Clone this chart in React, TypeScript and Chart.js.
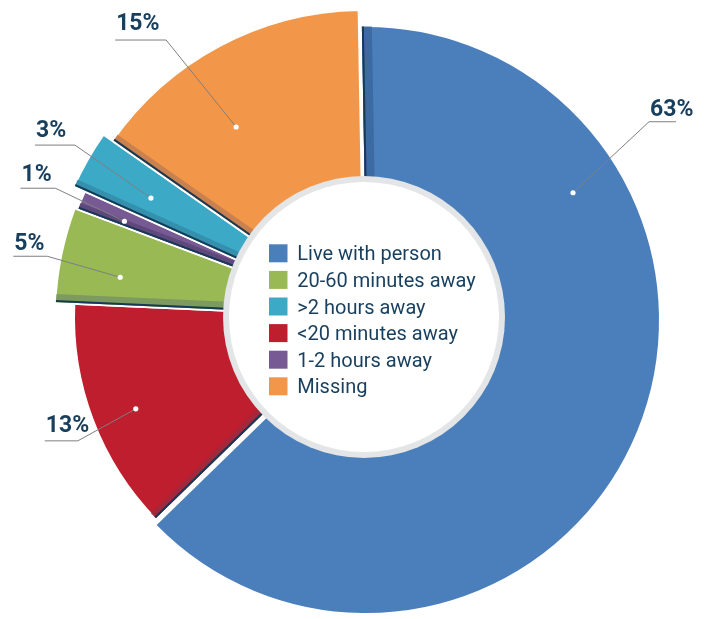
import React, { useEffect, useRef } from "react";
import { Chart, registerables } from "chart.js";

Chart.register(...registerables);

// ---- data ----
const categories = [
  "Live with person",
  "<20 minutes away",
  "20-60 minutes away",
  "1-2 hours away",
  ">2 hours away",
  "Missing",
];
const shares = [63, 13, 5, 1, 3, 15];
const percentLabels = ["63%", "13%", "5%", "1%", "3%", "15%"];
const legendOrder = [
  "Live with person",
  "20-60 minutes away",
  ">2 hours away",
  "<20 minutes away",
  "1-2 hours away",
  "Missing",
];

// ---- styles ----
const fillColors = ["#4a7fbb", "#be1e2d", "#99b955", "#775a93", "#3caac6", "#f2974a"];
const sideColors = ["#3b6ba2", "#a3283b", "#7d9b5e", "#5f487b", "#3490ad", "#c9814f"];
const edgeColor = "#163a55";
const textColor = "#183f5e";
const radiusPx = [294, 290, 309, 306, 318, 307];
const slabShift = [[2, 3], [0, 0], [0, 0], [0, 0], [0, 0], [0, 0]];
const bandPx = [8, 5, 6, 4, 5, 5];
// callout layout: position along slice (fraction), radius of dot, elbow offset, horizontal line length, text gap
const callouts = [
  { frac: 0.262, r: 243, dx: 76, dy: -71, len: 27, gap: 6 },
  { frac: 0.476, r: 246, dx: -58, dy: 32, len: -33, gap: 9 },
  { frac: 0.37, r: 247, dx: -73, dy: -21, len: -34, gap: 6 },
  { frac: 0.33, r: 258, dx: -69, dy: -33, len: -35, gap: 7 },
  { frac: 0.46, r: 244, dx: -76, dy: -53, len: -40, gap: 8 },
  { frac: 0.39, r: 229, dx: -70, dy: -87, len: -51, gap: 10 },
];

const slabPlugin: any = {
  id: "slab",
  beforeDatasetsDraw(chart: any) {
    const meta = chart.getDatasetMeta(0);
    if (!meta.$base) {
      meta.$base = meta.data.map((arc: any) => ({ x: arc.x, y: arc.y }));
    }
    meta.data.forEach((arc: any, i: number) => {
      arc.outerRadius = radiusPx[i];
      arc.x = meta.$base[i].x + slabShift[i][0];
      arc.y = meta.$base[i].y + slabShift[i][1];
    });
  },
  afterDatasetsDraw(chart: any) {
    const ctx = chart.ctx as CanvasRenderingContext2D;
    const meta = chart.getDatasetMeta(0);
    const arcs = meta.data as any[];

    // side faces / edges along the start edge of each slice
    arcs.forEach((arc: any, i: number) => {
      const { x, y, startAngle, outerRadius, innerRadius } = arc;
      const ux = Math.cos(startAngle);
      const uy = Math.sin(startAngle);
      const nx = -uy;
      const ny = ux;
      const rEnd = outerRadius + 6;
      ctx.save();
      ctx.beginPath();
      ctx.arc(x, y, outerRadius - 0.5, 0, Math.PI * 2);
      ctx.clip();
      const strip = (d0: number, d1: number, color: string) => {
        ctx.beginPath();
        ctx.moveTo(x + ux * innerRadius + nx * d0, y + uy * innerRadius + ny * d0);
        ctx.lineTo(x + ux * rEnd + nx * d0, y + uy * rEnd + ny * d0);
        ctx.lineTo(x + ux * rEnd + nx * d1, y + uy * rEnd + ny * d1);
        ctx.lineTo(x + ux * innerRadius + nx * d1, y + uy * innerRadius + ny * d1);
        ctx.closePath();
        ctx.fillStyle = color;
        ctx.fill();
      };
      strip(1, 3 + bandPx[i], sideColors[i]);
      strip(1, 3, edgeColor);
      ctx.restore();
    });

    const cx = meta.$base[0].x;
    const cy = meta.$base[0].y;

    // callouts
    arcs.forEach((arc: any, i: number) => {
      const c = callouts[i];
      const a = arc.startAngle + c.frac * (arc.endAngle - arc.startAngle);
      const px = arc.x + Math.cos(a) * c.r;
      const py = arc.y + Math.sin(a) * c.r;
      const ex = px + c.dx;
      const ey = py + c.dy;
      const lx = ex + c.len;
      ctx.save();
      ctx.strokeStyle = "#7d7f82";
      ctx.lineWidth = 1;
      ctx.beginPath();
      ctx.moveTo(px, py);
      ctx.lineTo(ex, ey);
      ctx.lineTo(lx, ey);
      ctx.stroke();
      ctx.beginPath();
      ctx.arc(px, py, 2.6, 0, Math.PI * 2);
      ctx.fillStyle = "#ffffff";
      ctx.fill();
      ctx.font = "bold 23px Roboto";
      ctx.fillStyle = textColor;
      ctx.textAlign = "left";
      ctx.textBaseline = "alphabetic";
      ctx.fillText(percentLabels[i], Math.min(ex, lx) + 1, ey - c.gap);
      ctx.restore();
    });

    // center disc with grey ring
    ctx.save();
    ctx.beginPath();
    ctx.arc(cx, cy, 141, 0, Math.PI * 2);
    ctx.fillStyle = "#e4e5e7";
    ctx.fill();
    ctx.beginPath();
    ctx.arc(cx, cy, 135, 0, Math.PI * 2);
    ctx.fillStyle = "#ffffff";
    ctx.fill();

    // legend
    const left = cx - 95;
    const top = cy - 72.7;
    const step = 26.6;
    ctx.font = "20px Roboto";
    ctx.textAlign = "left";
    ctx.textBaseline = "alphabetic";
    legendOrder.forEach((name, k) => {
      const idx = categories.indexOf(name);
      const ry = top + k * step;
      ctx.fillStyle = fillColors[idx];
      ctx.fillRect(left, ry, 18.5, 18);
      ctx.fillStyle = textColor;
      ctx.fillText(name, left + 28.3, ry + 16);
    });
    ctx.restore();
  },
};

export default function App() {
  const canvasRef = useRef<HTMLCanvasElement | null>(null);

  useEffect(() => {
    if (!canvasRef.current) return;
    const chart = new Chart(canvasRef.current, {
      type: "doughnut",
      data: {
        labels: categories,
        datasets: [
          {
            data: shares,
            backgroundColor: fillColors,
            borderColor: "#ffffff",
            borderWidth: 2,
            hoverOffset: 0,
          },
        ],
      },
      options: {
        responsive: false,
        animation: false,
        devicePixelRatio: 1,
        radius: 292,
        cutout: "45%",
        rotation: -1,
        layout: { padding: { left: 19, right: 0, top: 15, bottom: 0 } },
        plugins: {
          legend: { display: false },
          tooltip: { enabled: false },
        },
        events: [],
      } as any,
      plugins: [slabPlugin],
    });
    return () => chart.destroy();
  }, []);

  return (
    <div style={{ position: "absolute", left: 0, top: 0, width: 709, height: 619, background: "#ffffff" }}>
      <canvas ref={canvasRef} width={709} height={619} style={{ display: "block" }} />
    </div>
  );
}
